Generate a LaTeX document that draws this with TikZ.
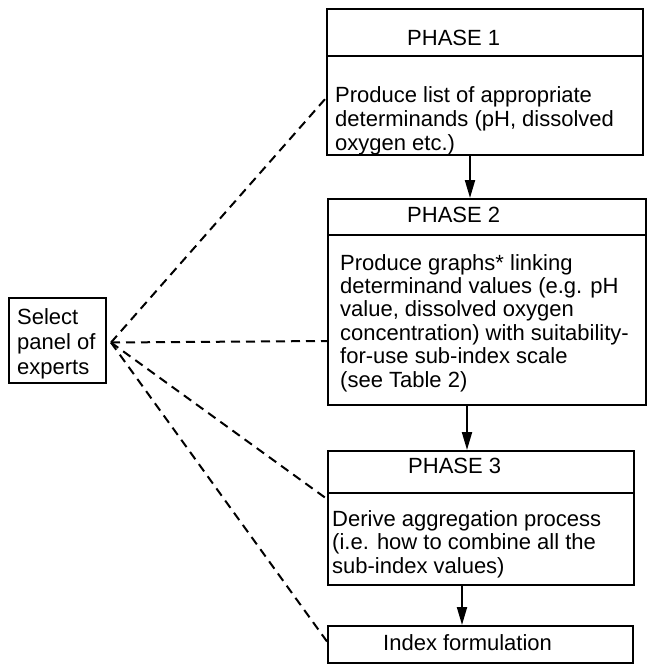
\documentclass[tikz,border=0pt]{standalone}
\usepackage{fontspec}
\setmainfont{Liberation Sans}
\usetikzlibrary{arrows.meta}
\begin{document}
\begin{tikzpicture}[x=1pt,y=-1pt,
  box/.style={draw,line width=2pt,inner sep=0pt,anchor=north west},
  txt/.style={anchor=base west,inner sep=0pt,align=left,font=\fontsize{22}{23.4}\selectfont},
  dashline/.style={line width=2pt,dash pattern=on 9pt off 6pt},
  flow/.style={line width=2pt,-{Triangle[length=18pt,width=10pt]}}]
\useasboundingbox[fill=white] (0,0) rectangle (647,664);
% boxes
\node[box,minimum width=316pt,minimum height=47pt] (p1h) at (326,8) {};
\node[box,minimum width=316pt,minimum height=99pt] (p1b) at (326,55) {};
\node[box,minimum width=318pt,minimum height=36pt] (p2h) at (327,198) {};
\node[box,minimum width=318pt,minimum height=170pt] (p2b) at (327,234) {};
\node[box,minimum width=306pt,minimum height=42pt] (p3h) at (327,450) {};
\node[box,minimum width=306pt,minimum height=92pt] (p3b) at (327,492) {};
\node[box,minimum width=305pt,minimum height=37pt] (ix) at (327,625) {};
\node[box,minimum width=97pt,minimum height=85pt] (sel) at (8,297) {};
% texts (base = baseline of the last line)
\node[txt] (t1h) at (407,45) {PHASE 1};
\node[txt,font=\fontsize{22}{24}\selectfont] (t1b) at (335,150) {Produce list of appropriate\\determinands (pH, dissolved\\oxygen etc.)};
\node[txt] (t2h) at (407,222) {PHASE 2};
\node[txt] (t2b) at (340,387) {Produce graphs* linking\\determinand values (e.g. pH\\value, dissolved oxygen\\concentration) with suitability-\\for-use sub-index scale\\(see Table 2)};
\node[txt] (t3h) at (408,473) {PHASE 3};
\node[txt] (t3b) at (332,573) {Derive aggregation process\\(i.e. how to combine all the\\sub-index values)};
\node[txt] (tix) at (383,650) {Index formulation};
\node[txt,font=\fontsize{22}{25}\selectfont] (tsel) at (17,374) {Select\\panel of\\experts};
% arrows
\coordinate (ax1) at (470,0);
\coordinate (ax2) at (467,0);
\coordinate (ax3) at (462,0);
\draw[flow] (ax1 |- p1b.south) -- (ax1 |- p2h.north);
\draw[flow] (ax2 |- p2b.south) -- (ax2 |- p3h.north);
\draw[flow] (ax3 |- p3b.south) -- (ax3 |- ix.north);
% dashed links
\coordinate (fan) at ([xshift=4pt,yshift=-2pt]sel.east);
\draw[dashline] (fan) -- ([yshift=7.5pt]p1b.west);
\draw[dashline] (fan) -- ([yshift=-21pt]p2b.west);
\draw[dashline] (fan) -- ([yshift=40pt]p3b.west);
\draw[dashline] (fan) -- ([yshift=3pt]ix.west);
\end{tikzpicture}
\end{document}
